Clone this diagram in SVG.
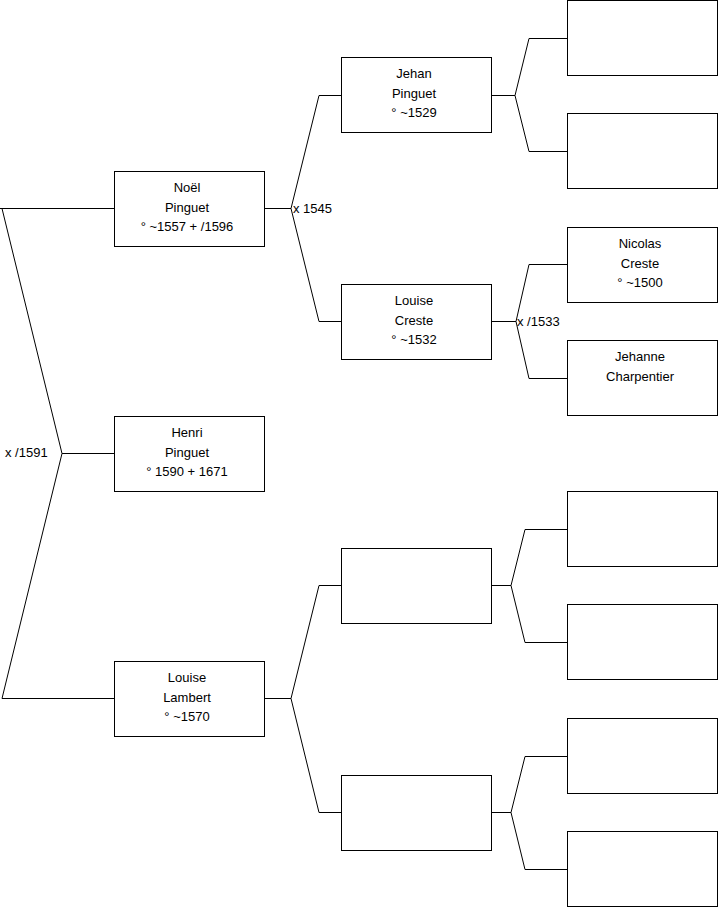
<svg xmlns="http://www.w3.org/2000/svg" width="719" height="908" viewBox="0 0 719 908">
<style>
.box{fill:#fff;stroke:#000;stroke-width:1}
.c{fill:none;stroke:#000;stroke-width:1}
text{font-family:"Liberation Sans",Arial,sans-serif;font-size:13px;fill:#000}
.t{text-anchor:middle}
</style>
<rect width="719" height="908" fill="#fff"/>
<g id="connectors">
<path class="c" d="M0,208.5 H114 M2,208.5 L62,453.5 L2,698.5 H114 M62,453.5 H114"/>
<path class="c" d="M265,208.5 H291 M319,95.5 L291,208.5 L319,321.5 M319,95.5 H341 M319,321.5 H341"/>
<path class="c" d="M265,698.5 H291 M319,585.5 L291,698.5 L319,812.5 M319,585.5 H341 M319,812.5 H341"/>
<path class="c" d="M492,95.5 H515 M567,38.5 H529 L515,95.5 L529,151.5 H567"/>
<path class="c" d="M492,321.5 H516 M567,264.5 H529 L516,321.5 L529,378.5 H567"/>
<path class="c" d="M492,585.5 H511 M567,529.5 H525 L511,585.5 L525,642.5 H567"/>
<path class="c" d="M492,812.5 H511 M567,756.5 H525 L511,812.5 L525,869.5 H567"/>
<text x="5" y="456.5">x /1591</text>
<text x="293" y="212.5">x 1545</text>
<text x="517" y="325.5">x /1533</text>
</g>
<g id="noel"><rect class="box" x="114.5" y="171.5" width="150" height="75"/>
<text class="t" x="187" y="192">Noël</text><text class="t" x="187" y="211.5">Pinguet</text><text class="t" x="187" y="231">° ~1557 + /1596</text></g>
<g id="henri"><rect class="box" x="114.5" y="416.5" width="150" height="75"/>
<text class="t" x="187" y="437">Henri</text><text class="t" x="187" y="456.5">Pinguet</text><text class="t" x="187" y="476">° 1590 + 1671</text></g>
<g id="louise-lambert"><rect class="box" x="114.5" y="661.5" width="150" height="75"/>
<text class="t" x="187" y="682">Louise</text><text class="t" x="187" y="701.5">Lambert</text><text class="t" x="187" y="721">° ~1570</text></g>
<g id="jehan"><rect class="box" x="341.5" y="57.5" width="150" height="75"/>
<text class="t" x="414" y="78">Jehan</text><text class="t" x="414" y="97.5">Pinguet</text><text class="t" x="414" y="117">° ~1529</text></g>
<g id="louise-creste"><rect class="box" x="341.5" y="284.5" width="150" height="75"/>
<text class="t" x="414" y="305">Louise</text><text class="t" x="414" y="324.5">Creste</text><text class="t" x="414" y="344">° ~1532</text></g>
<g id="blank-f"><rect class="box" x="341.5" y="548.5" width="150" height="75"/></g>
<g id="blank-m"><rect class="box" x="341.5" y="775.5" width="150" height="75"/></g>
<g id="g3-1"><rect class="box" x="567.5" y="0.5" width="150" height="75"/></g>
<g id="g3-2"><rect class="box" x="567.5" y="113.5" width="150" height="75"/></g>
<g id="nicolas"><rect class="box" x="567.5" y="227.5" width="150" height="75"/>
<text class="t" x="640" y="248">Nicolas</text><text class="t" x="640" y="267.5">Creste</text><text class="t" x="640" y="287">° ~1500</text></g>
<g id="jehanne"><rect class="box" x="567.5" y="340.5" width="150" height="75"/>
<text class="t" x="640" y="361">Jehanne</text><text class="t" x="640" y="380.5">Charpentier</text></g>
<g id="g3-5"><rect class="box" x="567.5" y="491.5" width="150" height="75"/></g>
<g id="g3-6"><rect class="box" x="567.5" y="604.5" width="150" height="75"/></g>
<g id="g3-7"><rect class="box" x="567.5" y="718.5" width="150" height="75"/></g>
<g id="g3-8"><rect class="box" x="567.5" y="831.5" width="150" height="75"/></g>
</svg>
